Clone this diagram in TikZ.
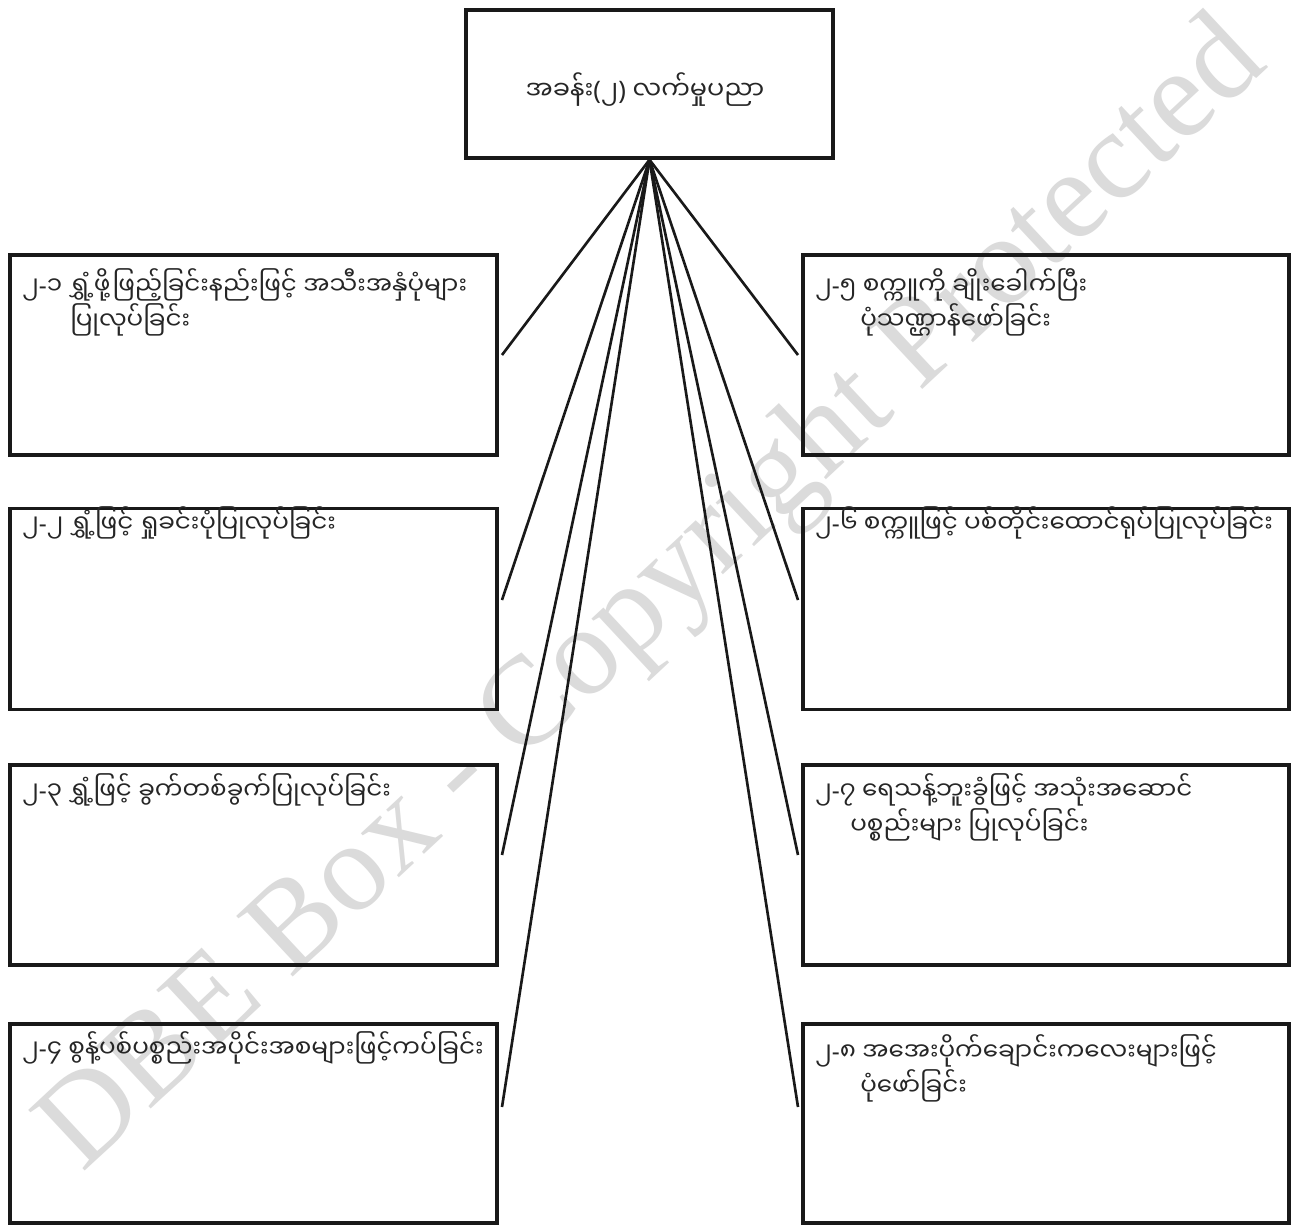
\documentclass[tikz,border=0pt]{standalone}
\usepackage{fontspec}
\newfontfamily\mmfont[Script=Myanmar]{Noto Sans Myanmar UI}
\newfontfamily\punctfont{Noto Sans}
\newfontfamily\wmfont{Liberation Serif}
\newcommand{\hy}{{\punctfont-}}
\newcommand{\lp}{{\punctfont(}}
\newcommand{\rp}{{\punctfont)}}
\tikzset{
  box/.style={draw=black!90, line width=2pt, rectangle, inner sep=0pt},
  txt/.style={font=\mmfont\fontsize{14}{20}\selectfont, inner sep=0pt, anchor=north west, align=left, text=black!85},
  link/.style={line width=1.5pt, black!90},
  wm/.style={font=\wmfont\fontsize{72}{72}\selectfont, text=gray!28, rotate=43}
}
\begin{document}
\begin{tikzpicture}[x=0.02cm, y=-0.02cm]
\useasboundingbox (0,0) rectangle (1291,1227);
\fill[white] (0,0) rectangle (1291,1227);
% watermark
\node[wm] (wmark) at (655,598) {DBE Box - Copyright Protected};
% top box
\node[box, minimum width=367*0.02cm, minimum height=148*0.02cm] (top) at (649.5,84) {};
\node[font=\mmfont\fontsize{14.5}{20}\selectfont, text=black!85] (toptxt) at (645,90) {အခန်း\lp ၂\rp\ လက်မှုပညာ};
% left boxes
\node[box, minimum width=487*0.02cm, minimum height=200*0.02cm] (b1) at (253.5,355) {};
\node[box, minimum width=487*0.02cm, minimum height=201*0.02cm] (b2) at (253.5,609) {};
\node[box, minimum width=487*0.02cm, minimum height=200*0.02cm] (b3) at (253.5,865) {};
\node[box, minimum width=487*0.02cm, minimum height=199*0.02cm] (b4) at (253.5,1123.5) {};
% right boxes
\node[box, minimum width=486*0.02cm, minimum height=200*0.02cm] (b5) at (1046,355) {};
\node[box, minimum width=486*0.02cm, minimum height=201*0.02cm] (b6) at (1046,609) {};
\node[box, minimum width=486*0.02cm, minimum height=200*0.02cm] (b7) at (1046,865) {};
\node[box, minimum width=486*0.02cm, minimum height=199*0.02cm] (b8) at (1046,1123.5) {};
% texts
\node[txt] (t1) at (22,268) {၂\hy ၁ ရွှံ့ဖို့ဖြည့်ခြင်းနည်းဖြင့် အသီးအနှံပုံများ\\\hspace{0.96cm}ပြုလုပ်ခြင်း};
\node[txt] (t2) at (22,506) {၂\hy ၂ ရွှံ့ဖြင့် ရှုခင်းပုံပြုလုပ်ခြင်း};
\node[txt] (t3) at (22,773) {၂\hy ၃ ရွှံ့ဖြင့် ခွက်တစ်ခွက်ပြုလုပ်ခြင်း};
\node[txt] (t4) at (22,1031) {၂\hy ၄ စွန့်ပစ်ပစ္စည်းအပိုင်းအစများဖြင့်ကပ်ခြင်း};
\node[txt] (t5) at (815,268) {၂\hy ၅ စက္ကူကို ချိုးခေါက်ပြီး\\\hspace{0.9cm}ပုံသဏ္ဌာန်ဖော်ခြင်း};
\node[txt] (t6) at (815,506) {၂\hy ၆ စက္ကူဖြင့် ပစ်တိုင်းထောင်ရုပ်ပြုလုပ်ခြင်း};
\node[txt] (t7) at (815,773) {၂\hy ၇ ရေသန့်ဘူးခွံဖြင့် အသုံးအဆောင်\\\hspace{0.7cm}ပစ္စည်းများ ပြုလုပ်ခြင်း};
\node[txt] (t8) at (815,1034) {၂\hy ၈ အအေးပိုက်ချောင်းကလေးများဖြင့်\\\hspace{0.9cm}ပုံဖော်ခြင်း};
% connector ends
\coordinate (e1) at (502,355);
\coordinate (e2) at (502,600);
\coordinate (e3) at (502,855);
\coordinate (e4) at (502,1107);
\coordinate (e5) at (798,355);
\coordinate (e6) at (798,600);
\coordinate (e7) at (798,855);
\coordinate (e8) at (798,1107);
\foreach \e in {e1,e2,e3,e4,e5,e6,e7,e8} {
  \draw[link] (top.south) -- (\e);
}
\end{tikzpicture}
\end{document}
